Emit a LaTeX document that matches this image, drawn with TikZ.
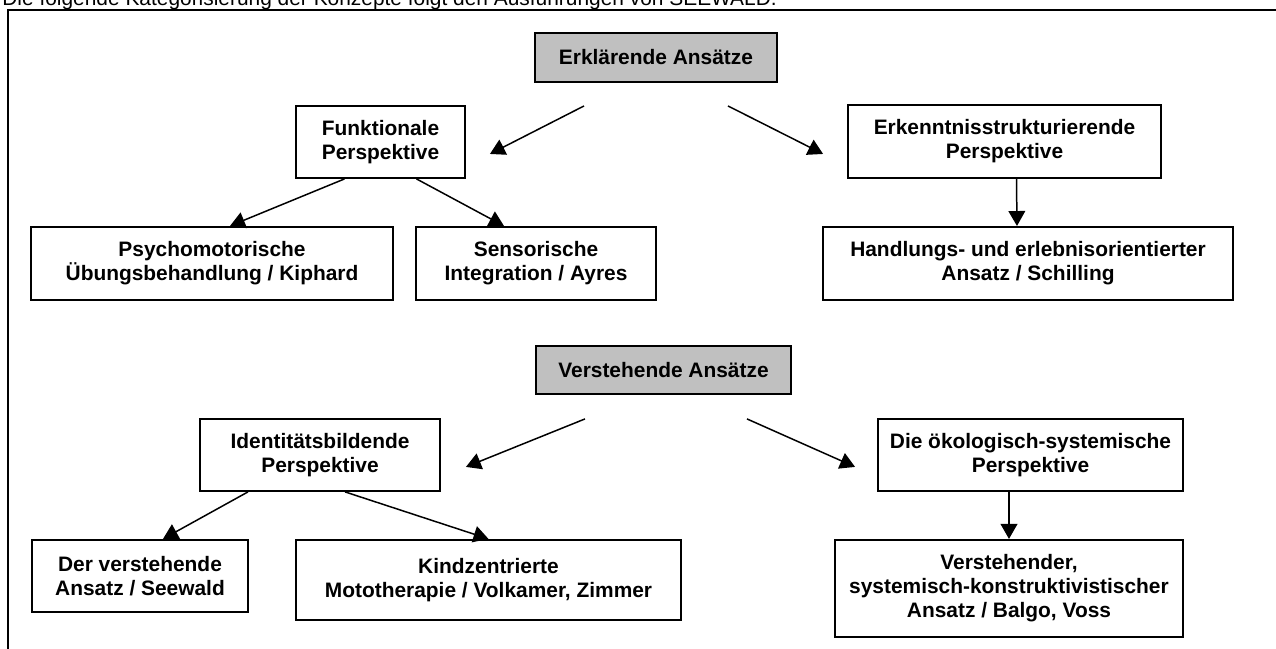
\documentclass[tikz,border=0pt]{standalone}
\usepackage{fontspec}
\setmainfont{Liberation Sans}
\setsansfont{Liberation Sans}
\usepackage{tikz}
\usetikzlibrary{arrows.meta,positioning,calc}
\definecolor{kopfgrau}{HTML}{C0C0C0}

\begin{document}
\begin{tikzpicture}[x=0.02cm, y=-0.02cm, font=\fontsize{11.9}{13.6}\selectfont]
	\tikzstyle{kopf} = [rectangle, draw=black, fill=kopfgrau, line width=1.1pt,
	text centered, font=\fontsize{11.9}{13.6}\selectfont\bfseries]
	\tikzstyle{kasten} = [rectangle, draw=black, line width=1.1pt, align=center,
	minimum height=1.44cm, font=\fontsize{11.9}{13.6}\selectfont\bfseries]
	\tikzstyle{pfeil} = [line width=0.85pt, -{Triangle[length=8.5pt,width=9.5pt]}]
	\useasboundingbox (0,0) rectangle (1276,649);
	\clip (0,0) rectangle (1276,649);
	% einleitung und rahmen
	\node (einleitung) [anchor=base west, inner sep=0pt] at (2,6)
		{Die folgende Kategorisierung der Konzepte folgt den Ausführungen von SEEWALD.};
	\draw[line width=1.1pt] (8,660) -- (8,10) -- (1290,10);
	% erklaerende ansaetze
	\node (erklaerend) at (656,57.5) [kopf, minimum width=4.84cm, minimum height=0.98cm]
		{Erklärende Ansätze};
	\node (funktional) at ($(erklaerend.south)+(-275.5,59)$) [kasten, minimum width=3.38cm]
		{Funktionale\\Perspektive};
	\node (erkenntnis) at ($(erklaerend.south)+(348.5,58.5)$) [kasten, minimum width=6.26cm,
		minimum height=1.46cm] {Erkenntnisstrukturierende\\Perspektive};
	\draw[pfeil] ($(erklaerend.south)+(-72,23)$) -- ($(funktional.east)+(24,12)$);
	\draw[pfeil] ($(erklaerend.south)+(72,23)$) -- ($(erkenntnis.west)+(-24,12.5)$);
	% funktionale perspektive
	\node (psycho) at ($(funktional.south)+(-168.5,84.5)$) [kasten, minimum width=7.24cm,
		minimum height=1.46cm] {Psychomotorische\\Übungsbehandlung / Kiphard};
	\node (sensorik) at ($(funktional.south)+(155.5,84.5)$) [kasten, minimum width=4.8cm,
		minimum height=1.46cm] {Sensorische\\Integration / Ayres};
	\draw[pfeil] ($(funktional.south)+(-36,0)$) -- ($(psycho.north)+(18,0)$);
	\draw[pfeil] ($(funktional.south)+(36,0)$) -- ($(sensorik.north)+(-32,0)$);
	% erkenntnisstrukturierende perspektive
	\node (handlung) at ($(erkenntnis.south)+(23.5,84.5)$) [kasten, minimum width=8.2cm,
		minimum height=1.46cm] {Handlungs- und erlebnisorientierter\\Ansatz / Schilling};
	\draw[pfeil] ($(erkenntnis.south)+(12,0)$) -- ($(handlung.north)+(-11,0)$);

	% verstehende ansaetze
	\node (verstehend) at ($(erklaerend.south)+(7.5,287)$) [kopf, minimum width=5.1cm,
		minimum height=0.96cm] {Verstehende Ansätze};
	\node (identitaet) at ($(verstehend.south)+(-343.5,60)$) [kasten, minimum width=4.8cm]
		{Identitätsbildende\\Perspektive};
	\node (oekologie) at ($(verstehend.south)+(367,60)$) [kasten, minimum width=6.1cm]
		{Die ökologisch-systemische\\Perspektive};
	\draw[pfeil] ($(verstehend.south)+(-78.5,24)$) -- ($(identitaet.east)+(25,12)$);
	\draw[pfeil] ($(verstehend.south)+(83.5,24)$) -- ($(oekologie.west)+(-22,12)$);
	% identitaetsbildende perspektive
	\node (seewald) at ($(identitaet.south)+(-180,84)$) [kasten, minimum width=4.32cm]
		{Der verstehende\\Ansatz / Seewald};
	\node (kind) at ($(identitaet.south)+(168.5,88)$) [kasten, minimum width=7.7cm,
		minimum height=1.6cm] {Kindzentrierte\\Mototherapie / Volkamer, Zimmer};
	\draw[pfeil] ($(identitaet.south)+(-72,0)$) -- ($(seewald.north)+(23,0)$);
	\draw[pfeil] ($(identitaet.south)+(25,0)$) -- (kind.north);
	% oekologisch-systemische perspektive
	\node (systemisch) at ($(oekologie.south)+(-21.5,96.5)$) [kasten, minimum width=6.96cm,
		minimum height=1.94cm]
		{Verstehender,\\systemisch-konstruktivistischer\\Ansatz / Balgo, Voss};
	\draw[pfeil] ($(oekologie.south)+(-21.5,0)$) -- (systemisch.north);
\end{tikzpicture}
\end{document}
